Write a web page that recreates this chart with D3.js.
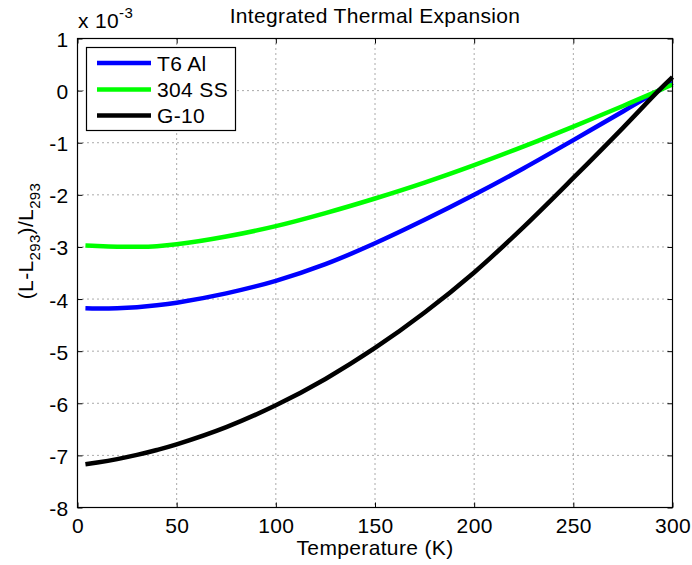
<!DOCTYPE html>
<html><head><meta charset="utf-8">
<script src="https://cdn.jsdelivr.net/npm/d3@7/dist/d3.min.js"></script>
<style>body{margin:0;background:#fff}svg{display:block;font-family:"Liberation Sans",Arial,Helvetica,sans-serif}</style>
</head><body><svg id="c" width="692" height="565"></svg>
<script>
const temps = [4, 10, 20, 30, 40, 50, 75, 100, 125, 150, 175, 200, 225, 250, 275, 293, 300];
const alValues = [-4.175, -4.18, -4.175, -4.155, -4.12, -4.07, -3.89, -3.65, -3.33, -2.93, -2.48, -2.0, -1.49, -0.95, -0.40, 0, 0.15];
const ssValues = [-2.97, -2.982, -2.995, -2.997, -2.985, -2.95, -2.80, -2.60, -2.35, -2.07, -1.765, -1.43, -1.07, -0.69, -0.295, 0, 0.117];
const g10Values = [-7.17, -7.137, -7.071, -6.991, -6.897, -6.789, -6.458, -6.039, -5.533, -4.939, -4.258, -3.489, -2.614, -1.676, -0.714, 0, 0.26];
const seriesNames = ["T6 Al", "304 SS", "G-10"];
const seriesColors = ["#0000ff", "#00ff00", "#000000"];
const xTicks = [0, 50, 100, 150, 200, 250, 300];
const yTicks = [1, 0, -1, -2, -3, -4, -5, -6, -7, -8];

const svg = d3.select("#c");
const L = 77.5, R = 672.5, T = 38.5, B = 507.5;
const x = d3.scaleLinear().domain([0, 300]).range([L, R]);
const y = d3.scaleLinear().domain([-8, 1]).range([B, T]);
const fs = 21;
const ls = "0.35px";

// grid
const g = svg.append("g");
xTicks.slice(1, -1).forEach(t => g.append("line").attr("x1", x(t)).attr("x2", x(t)).attr("y1", T).attr("y2", B)
  .attr("stroke", "#555").attr("stroke-width", 1).attr("stroke-dasharray", "1,4"));
yTicks.slice(1, -1).forEach(t => g.append("line").attr("y1", y(t)).attr("y2", y(t)).attr("x1", L).attr("x2", R)
  .attr("stroke", "#555").attr("stroke-width", 1).attr("stroke-dasharray", "1,4"));

// series
const series = [alValues, ssValues, g10Values];
const line = d3.line().x((d, i) => x(temps[i])).y(d => y(d)).curve(d3.curveCatmullRom.alpha(0.5));
series.forEach((vals, k) => {
  svg.append("path").datum(vals).attr("d", line).attr("fill", "none")
    .attr("stroke", seriesColors[k]).attr("stroke-width", 4.5).attr("stroke-linejoin", "round");
});

// axes (inward ticks)
const tl = 5;
const fmt = d => String(d);
svg.append("g").attr("transform", `translate(0,${B})`).call(d3.axisBottom(x).tickValues(xTicks).tickFormat(fmt).tickSizeInner(-tl).tickSizeOuter(0).tickPadding(11))
  .call(a => a.select(".domain").remove())
  .call(a => a.selectAll("text").attr("font-size", fs).attr("letter-spacing", ls).attr("font-family", "Liberation Sans, Arial").attr("fill", "#000"));
svg.append("g").attr("transform", `translate(0,${T})`).call(d3.axisTop(x).tickValues(xTicks).tickSizeInner(-tl).tickSizeOuter(0).tickFormat(""))
  .call(a => a.select(".domain").remove());
svg.append("g").attr("transform", `translate(${L},0)`).call(d3.axisLeft(y).tickValues(yTicks).tickFormat(fmt).tickSizeInner(-tl).tickSizeOuter(0).tickPadding(9))
  .call(a => a.select(".domain").remove())
  .call(a => a.selectAll("text").attr("font-size", fs).attr("letter-spacing", ls).attr("font-family", "Liberation Sans, Arial").attr("fill", "#000").attr("dy", "0.38em"));
svg.append("g").attr("transform", `translate(${R},0)`).call(d3.axisRight(y).tickValues(yTicks).tickSizeInner(-tl).tickSizeOuter(0).tickFormat(""))
  .call(a => a.select(".domain").remove());
svg.append("rect").attr("x", L).attr("y", T).attr("width", R - L).attr("height", B - T)
  .attr("fill", "none").attr("stroke", "#000").attr("stroke-width", 1.2);

// exponent label
const ex = svg.append("text").attr("x", 78).attr("y", 28).attr("font-size", fs).attr("letter-spacing", ls);
ex.append("tspan").text("x 10");
ex.append("tspan").attr("dy", -10).attr("font-size", 15).text("-3");

// title
svg.append("text").attr("x", (L + R) / 2).attr("y", 23).attr("text-anchor", "middle").attr("font-size", fs).attr("letter-spacing", ls)
  .text("Integrated Thermal Expansion");
// x label
svg.append("text").attr("x", (L + R) / 2).attr("y", 555).attr("text-anchor", "middle").attr("font-size", fs).attr("letter-spacing", ls)
  .text("Temperature (K)");
// y label
const yl = svg.append("text").attr("transform", "translate(33,241) rotate(-90)").attr("text-anchor", "middle").attr("font-size", fs).attr("letter-spacing", ls);
yl.append("tspan").text("(L-L");
yl.append("tspan").attr("dy", 7).attr("font-size", 15).text("293");
yl.append("tspan").attr("dy", -7).text(")/L");
yl.append("tspan").attr("dy", 7).attr("font-size", 15).text("293");

// legend
const lg = svg.append("g");
lg.append("rect").attr("x", 86.5).attr("y", 47.5).attr("width", 149).attr("height", 83)
  .attr("fill", "#fff").attr("stroke", "#000").attr("stroke-width", 1.2);
const ly = [63, 89.5, 115.5];
seriesNames.forEach((n, k) => {
  lg.append("line").attr("x1", 97).attr("x2", 151).attr("y1", ly[k]).attr("y2", ly[k])
    .attr("stroke", seriesColors[k]).attr("stroke-width", 4.5);
  lg.append("text").attr("x", 157).attr("y", ly[k] + 7.5).attr("font-size", fs).attr("letter-spacing", ls).text(n);
});
</script></body></html>
